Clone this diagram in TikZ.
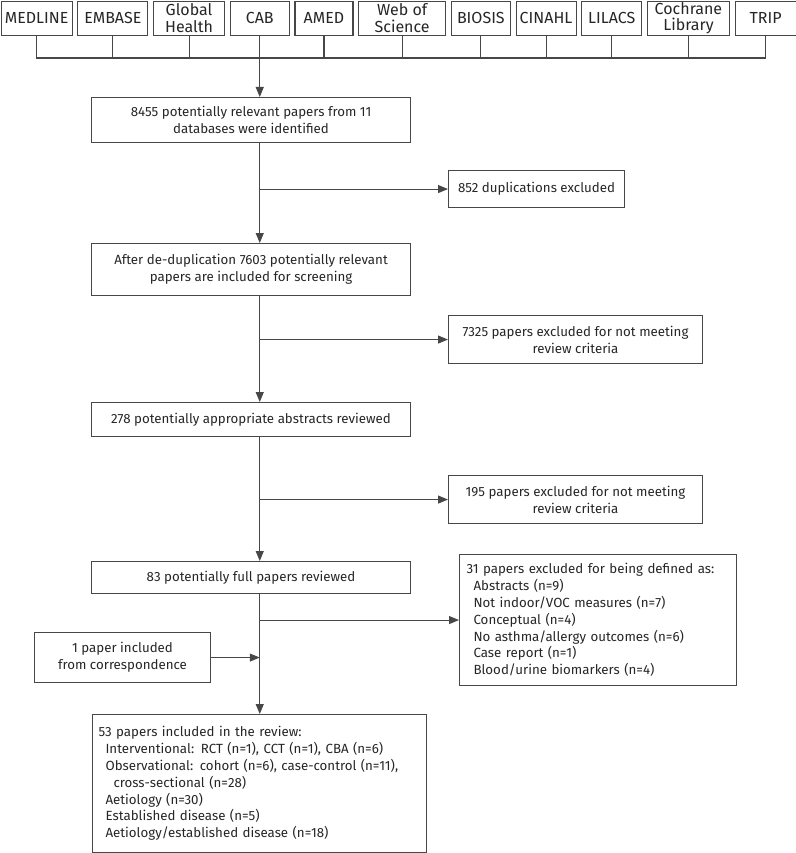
\documentclass[tikz,border=0pt]{standalone}
\usepackage{fontspec}
\setmainfont{Fira Sans}
\usetikzlibrary{arrows.meta,positioning}
\tikzset{>/.tip={Triangle[length=10pt,width=8pt]}}
\colorlet{linegray}{black!72}
\colorlet{textgray}{black!85}
\tikzset{
  db/.style={draw=linegray,line width=1.1pt,text=textgray,minimum height=34pt,
    inner sep=1pt,align=center,font=\fontsize{16}{16.5}\selectfont},
  box/.style={draw=linegray,line width=1.1pt,text=textgray,anchor=north west,
    align=center,font=\fontsize{13.3}{16.8}\selectfont},
  listbox/.style={box,align=left,inner sep=6pt},
  link/.style={draw=linegray,line width=1.1pt}
}

\begin{document}
\begin{tikzpicture}[x=1pt,y=-1pt,node distance=4.6pt]
      \useasboundingbox (0,0) rectangle (795,853);
      % databases
      \node[db,anchor=north west,minimum width=71pt](medline) at (0.6,0.6){MEDLINE};
      \node[db,right=of medline,minimum width=70pt](embase){EMBASE};
      \node[db,right=of embase,minimum width=71pt](global){Global\\Health};
      \node[db,right=of global,minimum width=59pt](cab){CAB};
      \node[db,right=of cab,minimum width=58pt](amed){AMED};
      \node[db,right=of amed,minimum width=87pt](wos){Web of\\Science};
      \node[db,right=of wos,minimum width=59pt](biosis){BIOSIS};
      \node[db,right=of biosis,minimum width=60pt](cinahl){CINAHL};
      \node[db,right=of cinahl,minimum width=60pt](lilacs){LILACS};
      \node[db,right=of lilacs,minimum width=82pt](cochrane){Cochrane\\Library};
      \node[db,right=of cochrane,minimum width=61pt](trip){TRIP};
      \coordinate(bus) at (0,58);

      % main column
      \node[box,minimum width=319pt,minimum height=45pt](found) at (91,97)
        {8455 potentially relevant papers from 11\\databases were identified};
      \node[box,minimum width=319pt,minimum height=52pt](dedup) at (91,243)
        {After de-duplication 7603 potentially relevant\\papers are included for screening};
      \node[box,minimum width=319pt,minimum height=34pt](abstr) at (91,402)
        {278 potentially appropriate abstracts reviewed};
      \node[box,minimum width=319pt,minimum height=32pt](full) at (91,561)
        {83 potentially full papers reviewed};
      \node[listbox,text width=322pt,minimum height=138pt](incl) at (92,714)
        {53 papers included in the review:\\
         \hspace*{7pt}Interventional: RCT (n=1), CCT (n=1), CBA (n=6)\\
         \hspace*{7pt}Observational: cohort (n=6), case-control (n=11),\\
         \hspace*{15pt}cross-sectional (n=28)\\
         \hspace*{7pt}Aetiology (n=30)\\
         \hspace*{7pt}Established disease (n=5)\\
         \hspace*{7pt}Aetiology/established disease (n=18)};

      % exclusions
      \node[box,minimum width=176pt,minimum height=37pt](dup) at (448,170)
        {852 duplications excluded};
      \node[box,minimum width=254pt,minimum height=48pt](excl1) at (448,315)
        {7325 papers excluded for not meeting\\review criteria};
      \node[box,minimum width=254pt,minimum height=48pt](excl2) at (448,475)
        {195 papers excluded for not meeting\\review criteria};
      \node[listbox,inner xsep=7pt,inner ysep=8pt,text width=263pt,minimum height=131pt](excl3) at (459,554)
        {31 papers excluded for being defined as:\\
         \hspace*{7pt}Abstracts (n=9)\\
         \hspace*{7pt}Not indoor/VOC measures (n=7)\\
         \hspace*{7pt}Conceptual (n=4)\\
         \hspace*{7pt}No asthma/allergy outcomes (n=6)\\
         \hspace*{7pt}Case report (n=1)\\
         \hspace*{7pt}Blood/urine biomarkers (n=4)};
      \node[box,minimum width=176pt,minimum height=50pt](corr) at (34,632)
        {1 paper included\\from correspondence};

      % connectors
      \draw[link] (medline.south) |- (bus -| trip.south) -- (trip.south);
      \draw[link] (embase.south) -- (embase.south |- bus);
      \draw[link] (global.south) -- (global.south |- bus);
      \draw[link] (amed.south) -- (amed.south |- bus);
      \draw[link] (wos.south) -- (wos.south |- bus);
      \draw[link] (biosis.south) -- (biosis.south |- bus);
      \draw[link] (cinahl.south) -- (cinahl.south |- bus);
      \draw[link] (lilacs.south) -- (lilacs.south |- bus);
      \draw[link] (cochrane.south) -- (cochrane.south |- bus);
      \draw[link,->] (cab.south) -- (cab.south |- found.north);
      \draw[link,->] (found.south -| cab) -- (dedup.north -| cab);
      \draw[link,->] (dedup.south -| cab) -- (abstr.north -| cab);
      \draw[link,->] (abstr.south -| cab) -- (full.north -| cab);
      \draw[link,->] (full.south -| cab) -- (incl.north -| cab);
      \draw[link,->] (dup.west -| cab) -- (dup.west);
      \draw[link,->] (excl1.west -| cab) -- (excl1.west);
      \draw[link,->] (excl2.west -| cab) -- (excl2.west);
      \draw[link,->] (excl3.west -| cab) -- (excl3.west);
      \draw[link,->] (corr.east) -- (corr.east -| cab);
    \end{tikzpicture}
\end{document}
